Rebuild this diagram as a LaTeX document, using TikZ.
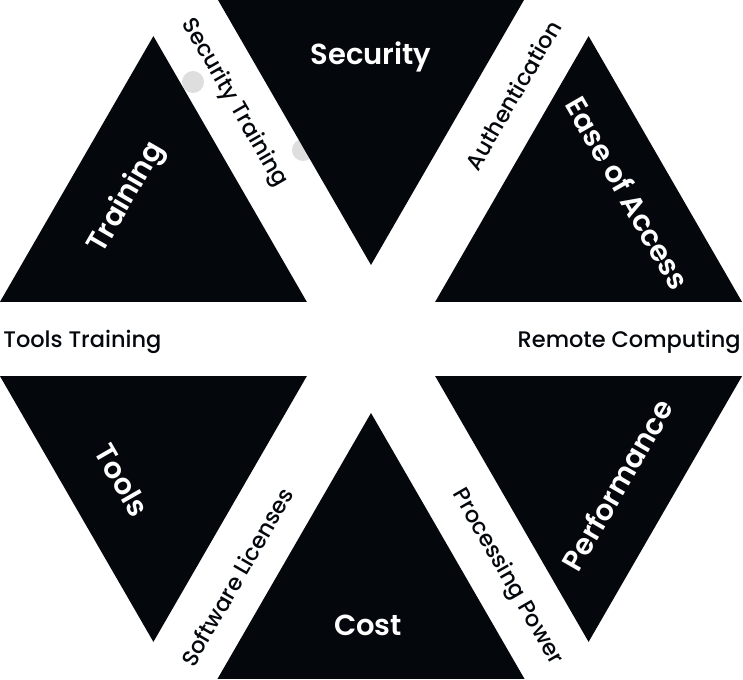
\documentclass[tikz,border=0pt]{standalone}
\usepackage{fontspec}
\setmainfont{Poppins}[UprightFont=*-Medium, BoldFont=*-SemiBold]
\usepackage{tikz}
\definecolor{tridark}{RGB}{4,8,13}
\definecolor{dotgray}{RGB}{222,222,222}
\tikzset{
  tri/.style={fill=tridark, draw=none},
  bigtext/.style={text=white, inner sep=0pt, font=\bfseries\fontsize{16.5}{16.5}\selectfont},
  bandtext/.style={text=tridark, inner sep=0pt, font=\fontsize{12.8}{12.8}\selectfont}
}

\begin{document}
\begin{tikzpicture}[x=0.02cm, y=0.02cm]
	%%%%% START %%%%%
	\useasboundingbox (-371, -340) rectangle (372, 339);

	% faint dots behind the triangles
	\fill[dotgray] (-178, 257) circle (11);
	\fill[dotgray] (-68, 189) circle (11);

	% upper triangles
	\fill[tri] (0, 74) -- (153.5, 339.9) -- (-153.5, 339.9) -- cycle;
	\fill[tri] (-64.1, 37) -- (-371.1, 37) -- (-217.6, 302.9) -- cycle;
	\fill[tri] (64.1, 37) -- (371.1, 37) -- (217.6, 302.9) -- cycle;

	% lower triangles
	\fill[tri] (-64.1, -37) -- (-371.1, -37) -- (-217.6, -302.9) -- cycle;
	\fill[tri] (0, -74) -- (-153.5, -339.9) -- (153.5, -339.9) -- cycle;
	\fill[tri] (64.1, -37) -- (371.1, -37) -- (217.6, -302.9) -- cycle;

	% names in the triangles
	\node[bigtext] (security) at (0, 282) {Security};
	\node[bigtext, rotate=60] (training) at (-244, 141) {Training};
	\node[bigtext, rotate=-60] (ease) at (257, 146) {Ease of Access};
	\node[bigtext, rotate=-60] (tools) at (-249, -141) {Tools};
	\node[bigtext] (cost) at (-3, -286) {Cost};
	\node[bigtext, rotate=60] (performance) at (246, -146) {Performance};

	% names in the white bands
	\node[bandtext, rotate=-60] (sectrain) at (-137, 236) {Security Training};
	\node[bandtext, rotate=60] (auth) at (142, 244) {Authentication};
	\node[bandtext, anchor=west] (toolstrain) at (-368, -3) {Tools Training};
	\node[bandtext, anchor=east] (remote) at (370, -3) {Remote Computing};
	\node[bandtext, rotate=60] (licenses) at (-134, -238) {Software Licenses};
	\node[bandtext, rotate=-60] (power) at (136, -238) {Processing Power};

	%%%%% END %%%%%
\end{tikzpicture}
\end{document}
